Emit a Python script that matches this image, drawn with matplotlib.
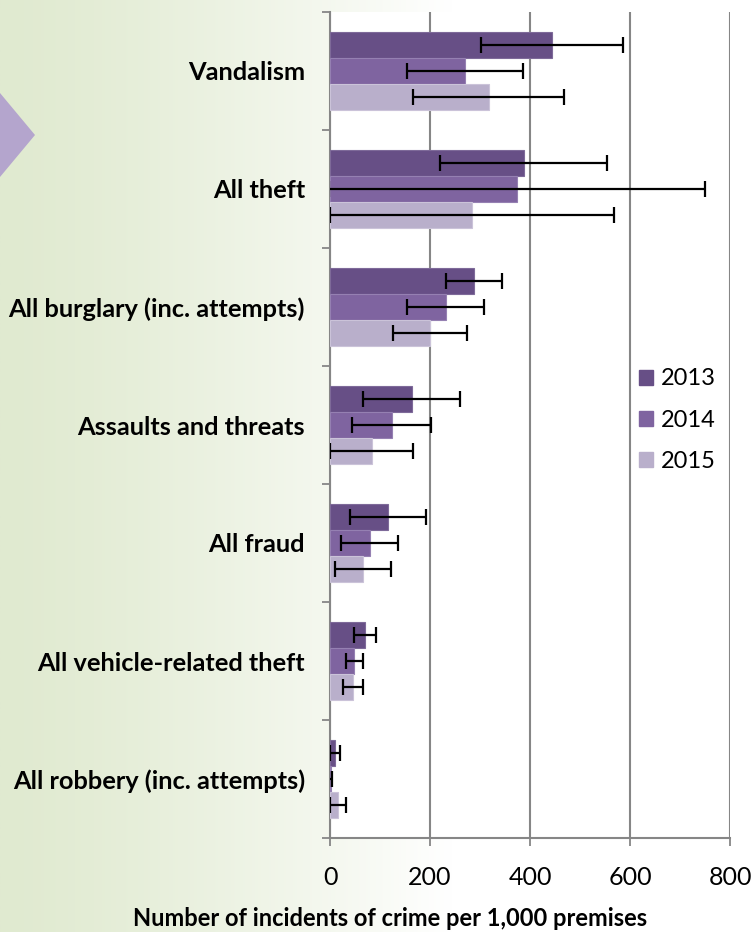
import numpy as np
import matplotlib
matplotlib.use("Agg")
import matplotlib.pyplot as plt
from matplotlib.patches import Polygon, Patch

# Data
categories = ["Vandalism", "All theft", "All burglary (inc. attempts)",
              "Assaults and threats", "All fraud", "All vehicle-related theft",
              "All robbery (inc. attempts)"]
years = ["2013", "2014", "2015"]
vals_2013 = [443, 387, 287, 163, 115, 69, 9]
vals_2014 = [269, 374, 231, 123, 79, 48, 1]
vals_2015 = [317, 283, 199, 83, 65, 46, 15]
err_2013 = [142, 167, 56, 97, 76, 22, 10]
err_2014 = [116, 376, 77, 79, 57, 17, 3]
err_2015 = [151, 284, 74, 83, 56, 20, 16]

values = [vals_2013, vals_2014, vals_2015]
errors = [err_2013, err_2014, err_2015]
colors = ["#674f86", "#7f64a0", "#b9afcb"]
edges = ["#7e6a99", "#9580b2", "#cbc3d9"]

plt.rcParams['font.family'] = ['Lato', 'DejaVu Sans']

W, H = 752, 932
fig = plt.figure(figsize=(W / 100, H / 100), dpi=100)

# background gradient + chevron
bg = fig.add_axes([0, 0, 1, 1], zorder=-10)
xs = np.linspace(0, 1, 400)
t = np.clip(xs / 0.6, 0, 1) ** 1.3
left = np.array([224, 234, 208]) / 255
right = np.array([255, 255, 255]) / 255
row = left[None, :] * (1 - t[:, None]) + right[None, :] * t[:, None]
grad = np.repeat(row[None, :, :], 2, axis=0)
bg.imshow(grad, extent=[0, 1, 0, 1], aspect='auto')
bg.add_patch(Polygon([[0, 1 - 93 / H], [35 / W, 1 - 135 / H], [0, 1 - 177 / H]],
                     closed=True, color="#b4a5cd", lw=0))
bg.set_xlim(0, 1)
bg.set_ylim(0, 1)
bg.axis('off')

ax = fig.add_axes([330 / W, 1 - 838 / H, 400 / W, 826 / H])
ax.set_facecolor("white")

n = len(categories)
y = np.arange(n)
h = 0.22
for i in range(3):
    pos = y - h + i * h
    ax.barh(pos, values[i], height=h, color=colors[i], edgecolor=edges[i],
            linewidth=0.8, label=years[i], zorder=3)
    ax.errorbar(values[i], pos, xerr=errors[i], fmt='none', ecolor='black',
                elinewidth=1.6, capsize=5.5, capthick=1.6, zorder=4)

ax.set_ylim(n - 0.5, -0.5)
ax.set_xlim(0, 800)
ax.set_xticks([0, 200, 400, 600, 800])
ax.set_yticks(y)
ax.set_yticklabels(categories, fontsize=18.3, fontweight='bold')
ax.set_yticks(np.arange(-0.5, n, 1), minor=True)
ax.tick_params(axis='y', which='major', length=0, pad=18)
ax.tick_params(axis='y', which='minor', length=6, color='#868686', width=1.3)
ax.tick_params(axis='x', length=6, color='#868686', width=1.3, labelsize=18, pad=14)
ax.grid(axis='x', color='#868686', linewidth=1.5, zorder=0)
for side in ['top', 'right']:
    ax.spines[side].set_visible(False)
for side in ['left', 'bottom']:
    ax.spines[side].set_color('#868686')
    ax.spines[side].set_linewidth(1.5)

fig.text(390 / W, 1 - 919 / H, "Number of incidents of crime per 1,000 premises",
         fontsize=17, fontweight='bold', ha='center', va='center')

handles = [Patch(facecolor=colors[i], edgecolor=colors[i]) for i in range(3)]
ax.legend(handles, years, loc='center left', bbox_to_anchor=(0.72, 0.506),
          frameon=False, fontsize=17, handlelength=0.6, handleheight=0.6,
          handletextpad=0.3, labelspacing=0.85)

fig.savefig("out.png", dpi=100)
